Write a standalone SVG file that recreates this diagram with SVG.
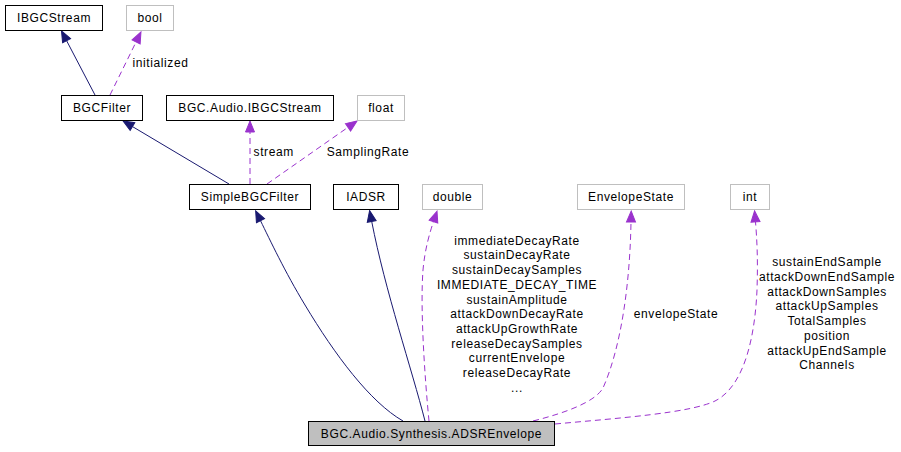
<svg xmlns="http://www.w3.org/2000/svg" width="901" height="452" viewBox="0 0 901 452">
<style>
text{font-family:"Liberation Sans",Arial,sans-serif;font-size:12px;letter-spacing:0.6px;fill:#000;text-anchor:middle}
.n rect{fill:#fff;stroke:#000;stroke-width:1}
.g rect{fill:#fff;stroke:#bfbfbf;stroke-width:1}
.m rect{fill:#bfbfbf;stroke:#000;stroke-width:1}
.inh{fill:none;stroke:#191970;stroke-width:1;marker-end:url(#an)}
.use{fill:none;stroke:#9a32cd;stroke-width:1;stroke-dasharray:6,4;marker-end:url(#ap)}
</style>
<defs>
<marker id="an" markerUnits="userSpaceOnUse" markerWidth="12" markerHeight="10" refX="0" refY="4.5" orient="auto" overflow="visible">
<path d="M0,0 L11,4.5 L0,9 z" fill="#191970" stroke="#191970"/>
</marker>
<marker id="ap" markerUnits="userSpaceOnUse" markerWidth="12" markerHeight="10" refX="0" refY="4.5" orient="auto" overflow="visible">
<path d="M0,0 L11,4.5 L0,9 z" fill="#9a32cd" stroke="#9a32cd"/>
</marker>
</defs>
<rect width="901" height="452" fill="#fff"/>
<g id="edges">
<path class="inh" d="M95,95 L66.6,40.7"/>
<path class="use" d="M110,95 L136.1,41.9"/>
<text x="160.5" y="66.5">initialized</text>
<path class="inh" d="M229,184 L132.5,126.6"/>
<path class="use" d="M250,184 L250,132"/>
<text x="273.7" y="156">stream</text>
<path class="use" d="M267,184 L348,127.3"/>
<text x="368" y="156">SamplingRate</text>
<path class="inh" d="M403,421 C370,402 335,355 305,305 C285,272 270,240 260.5,220.7"/>
<path class="inh" d="M425,421 C412,370 385,290 371.7,221.4"/>
<path class="use" d="M429,421 C425,380 420,310 423,270 C425,248 430,232 433.5,221.6"/>
<text x="517" y="244.7">immediateDecayRate</text>
<text x="517" y="259.4">sustainDecayRate</text>
<text x="517" y="274.1">sustainDecaySamples</text>
<text x="517" y="288.8">IMMEDIATE_DECAY_TIME</text>
<text x="517" y="303.5">sustainAmplitude</text>
<text x="517" y="318.2">attackDownDecayRate</text>
<text x="517" y="332.9">attackUpGrowthRate</text>
<text x="517" y="347.6">releaseDecaySamples</text>
<text x="517" y="362.3">currentEnvelope</text>
<text x="517" y="377">releaseDecayRate</text>
<text x="517" y="391.7">...</text>
<path class="use" d="M533,421 C565,413 595,402 603,388 C622,345 630,280 631,222"/>
<text x="676" y="318.3">envelopeState</text>
<path class="use" d="M555,424 C620,418 690,413 715,401 C745,386 755,335 757,290 C758,260 757,240 755.5,221.9"/>
<text x="827" y="266.3">sustainEndSample</text>
<text x="827" y="281">attackDownEndSample</text>
<text x="827" y="295.7">attackDownSamples</text>
<text x="827" y="310.4">attackUpSamples</text>
<text x="827" y="325.1">TotalSamples</text>
<text x="827" y="339.8">position</text>
<text x="827" y="354.5">attackUpEndSample</text>
<text x="827" y="369.2">Channels</text>
</g>
<g id="IBGCStream" class="n"><rect x="5.5" y="5.5" width="97" height="25"/><text x="54" y="22">IBGCStream</text></g>
<g id="bool" class="g"><rect x="126.5" y="5.5" width="47" height="25"/><text x="150" y="22">bool</text></g>
<g id="BGCFilter" class="n"><rect x="61.5" y="95.5" width="81" height="25"/><text x="102" y="112">BGCFilter</text></g>
<g id="BGCAudioIBGCStream" class="n"><rect x="166.5" y="95.5" width="167" height="25"/><text x="250" y="112">BGC.Audio.IBGCStream</text></g>
<g id="float" class="g"><rect x="357.5" y="95.5" width="47" height="25"/><text x="381" y="112">float</text></g>
<g id="SimpleBGCFilter" class="n"><rect x="189.5" y="184.5" width="121" height="25"/><text x="250" y="201">SimpleBGCFilter</text></g>
<g id="IADSR" class="n"><rect x="333.5" y="184.5" width="65" height="25"/><text x="366" y="201">IADSR</text></g>
<g id="double" class="g"><rect x="422.5" y="184.5" width="60" height="25"/><text x="452.5" y="201">double</text></g>
<g id="EnvelopeState" class="g"><rect x="577.5" y="184.5" width="107" height="25"/><text x="631" y="201">EnvelopeState</text></g>
<g id="int" class="g"><rect x="730.5" y="184.5" width="39" height="25"/><text x="750" y="201">int</text></g>
<g id="ADSREnvelope" class="m"><rect x="308.5" y="421.5" width="246" height="24"/><text x="431.5" y="438">BGC.Audio.Synthesis.ADSREnvelope</text></g>
</svg>
